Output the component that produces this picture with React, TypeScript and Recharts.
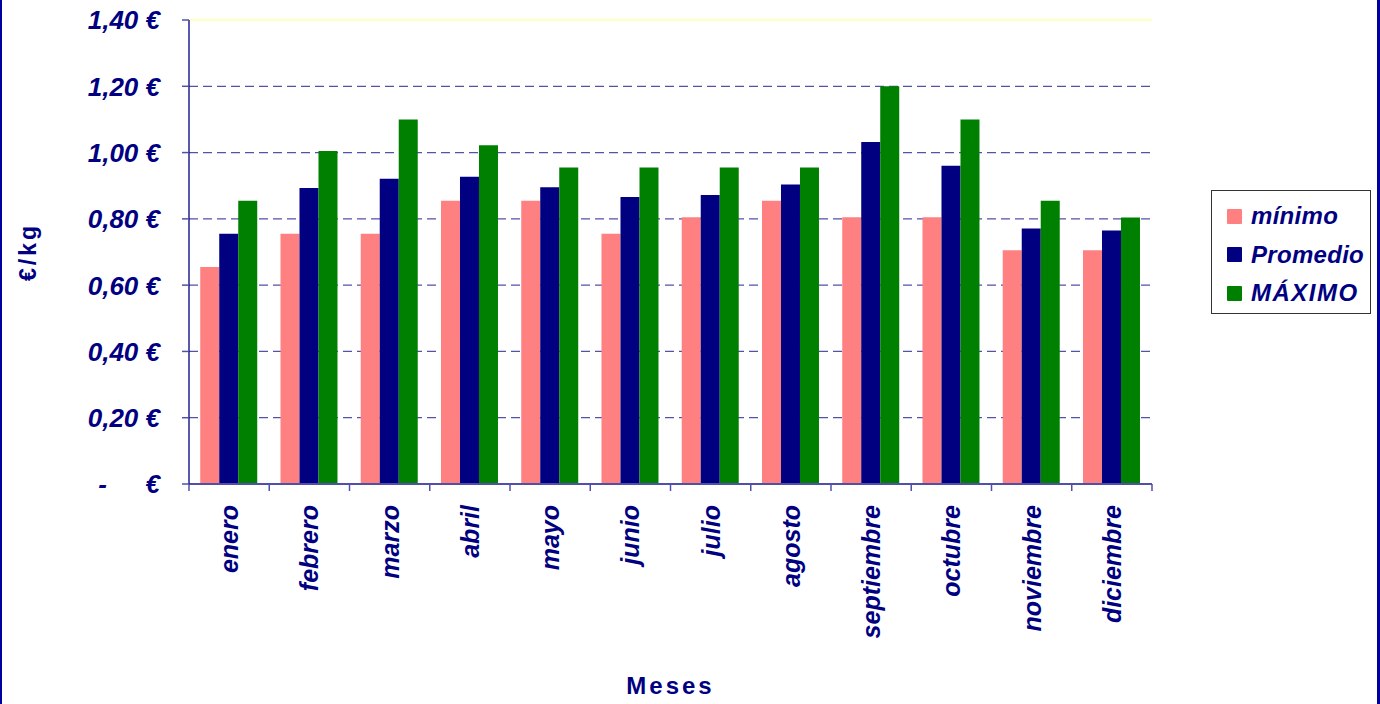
import React from 'react';
import { BarChart, Bar, XAxis, YAxis, CartesianGrid, ReferenceLine, Legend, Label } from 'recharts';

const months = ['enero', 'febrero', 'marzo', 'abril', 'mayo', 'junio', 'julio', 'agosto', 'septiembre', 'octubre', 'noviembre', 'diciembre'];
const minimo = [0.655, 0.755, 0.755, 0.855, 0.855, 0.755, 0.805, 0.855, 0.805, 0.805, 0.705, 0.705];
const promedio = [0.755, 0.893, 0.921, 0.927, 0.895, 0.866, 0.872, 0.904, 1.032, 0.96, 0.771, 0.765];
const maximo = [0.855, 1.005, 1.1, 1.022, 0.955, 0.955, 0.955, 0.955, 1.2, 1.1, 0.855, 0.804];
const yTicks = [0, 0.2, 0.4, 0.6, 0.8, 1.0, 1.2, 1.4];
const seriesNames = ['mínimo', 'Promedio', 'MÁXIMO'];

const data = months.map((m, i) => ({ month: m, min: minimo[i], prom: promedio[i], max: maximo[i] }));

const NAVY = '#000080';
const FONT = '"Liberation Sans", Arial, sans-serif';
const TICK_BLUE = '#5050a8';

const YTick = (props: any) => {
  const { x, y, payload } = props;
  const v = payload.value as number;
  const common = { fill: NAVY, fontFamily: FONT, fontSize: 26, fontWeight: 'bold' as const, fontStyle: 'italic' as const, textAnchor: 'end' as const, dy: '0.36em' };
  if (v === 0) {
    return (
      <g>
        <text x={x - 53} y={y} {...common}>-</text>
        <text x={x} y={y} {...common}>€</text>
      </g>
    );
  }
  return (
    <text x={x} y={y} {...common}>{v.toFixed(2).replace('.', ',') + ' €'}</text>
  );
};

const XTick = (props: any) => {
  const { x, y, payload, index, visibleTicksCount } = props;
  const half = payload.offset || 0;
  const ty = y + 21;
  const isLast = index === (visibleTicksCount ?? months.length) - 1;
  return (
    <g>
      <line x1={x - half} y1={y} x2={x - half} y2={y + 7} stroke={TICK_BLUE} strokeWidth={1.5} />
      {isLast && <line x1={x + half} y1={y} x2={x + half} y2={y + 7} stroke={TICK_BLUE} strokeWidth={1.5} />}
      <text
        x={x}
        y={ty}
        transform={`rotate(-90, ${x}, ${ty})`}
        textAnchor="end"
        dy="0.36em"
        fill={NAVY}
        fontFamily={FONT}
        fontSize={25}
        fontWeight="bold"
        fontStyle="italic"
      >
        {payload.value}
      </text>
    </g>
  );
};

const LegendBox = (props: any) => {
  const items = [...(props.payload || [])].sort((a: any, b: any) => seriesNames.indexOf(a.value) - seriesNames.indexOf(b.value));
  return (
    <div style={{ width: 158, height: 116, border: '1px solid #333', background: '#fff', boxSizing: 'content-box', paddingTop: 6 }}>
      {items.map((p: any) => (
        <div key={p.value} style={{ display: 'flex', alignItems: 'center', height: 38.5 }}>
          <div style={{ width: 15, height: 15, background: p.color, marginLeft: 15, marginRight: 9, borderRadius: 1 }} />
          <span style={{ color: NAVY, fontFamily: FONT, fontSize: 24, fontWeight: 'bold', fontStyle: 'italic', letterSpacing: p.value === 'MÁXIMO' ? 1.5 : 0.3 }}>{p.value}</span>
        </div>
      ))}
    </div>
  );
};

export default function App() {
  return (
    <div style={{ position: 'absolute', left: 0, top: 0, width: 1380, height: 704, background: '#fff', overflow: 'hidden' }}>
      <div style={{ position: 'absolute', left: 0, top: 0, width: 2, height: 704, background: '#0000a0' }} />
      <div style={{ position: 'absolute', left: 1377, top: 0, width: 3, height: 704, background: '#0000a0' }} />
      <BarChart
        width={1380}
        height={704}
        data={data}
        margin={{ top: 20, right: 228, bottom: 0, left: 0 }}
        barCategoryGap="14%"
        barGap={0}
      >
        <CartesianGrid vertical={false} stroke="#5252a8" strokeDasharray="9 5" strokeWidth={1.3} />
        <XAxis
          dataKey="month"
          height={220}
          interval={0}
          tickLine={false}
          tickSize={0}
          tickMargin={0}
          axisLine={{ stroke: TICK_BLUE, strokeWidth: 1.8 }}
          tick={<XTick />}
        >
          <Label
            content={(p: any) => {
              const vb = p.viewBox;
              return (
                <text
                  x={vb.x + vb.width / 2}
                  y={vb.y + vb.height - 10}
                  textAnchor="middle"
                  fill={NAVY}
                  fontFamily={FONT}
                  fontSize={24}
                  fontWeight="bold"
                  letterSpacing={3}
                >
                  Meses
                </text>
              );
            }}
          />
        </XAxis>
        <YAxis
          width={189}
          domain={[0, 1.4]}
          ticks={yTicks}
          interval={0}
          tickSize={7}
          tickMargin={22}
          axisLine={{ stroke: NAVY, strokeWidth: 1.3 }}
          tickLine={{ stroke: TICK_BLUE, strokeWidth: 1.5 }}
          tick={<YTick />}
        >
          <Label
            content={(p: any) => {
              const vb = p.viewBox;
              const cx = 28;
              const cy = vb.y + vb.height / 2;
              return (
                <text
                  x={cx}
                  y={cy}
                  transform={`rotate(-90, ${cx}, ${cy})`}
                  textAnchor="middle"
                  dy="0.36em"
                  fill={NAVY}
                  fontFamily={FONT}
                  fontSize={23}
                  fontWeight="bold"
                  letterSpacing={3}
                >
                  €/kg
                </text>
              );
            }}
          />
        </YAxis>
        <YAxis
          yAxisId="right"
          orientation="right"
          width={0}
          domain={[0, 1.4]}
          tick={false}
          tickLine={false}
          axisLine={{ stroke: '#ffffc8', strokeWidth: 2.5 }}
        />
        <ReferenceLine y={1.4} stroke="#ffffc8" strokeWidth={2.5} />
        <Legend
          layout="vertical"
          align="center"
          verticalAlign="middle"
          content={<LegendBox />}
          wrapperStyle={{ position: 'absolute', left: 1211, top: 190, width: 160, height: 124 }}
        />
        <Bar dataKey="min" name="mínimo" fill="#FF8080" isAnimationActive={false} />
        <Bar dataKey="prom" name="Promedio" fill="#000080" isAnimationActive={false} />
        <Bar dataKey="max" name="MÁXIMO" fill="#008000" isAnimationActive={false} />
      </BarChart>
    </div>
  );
}
